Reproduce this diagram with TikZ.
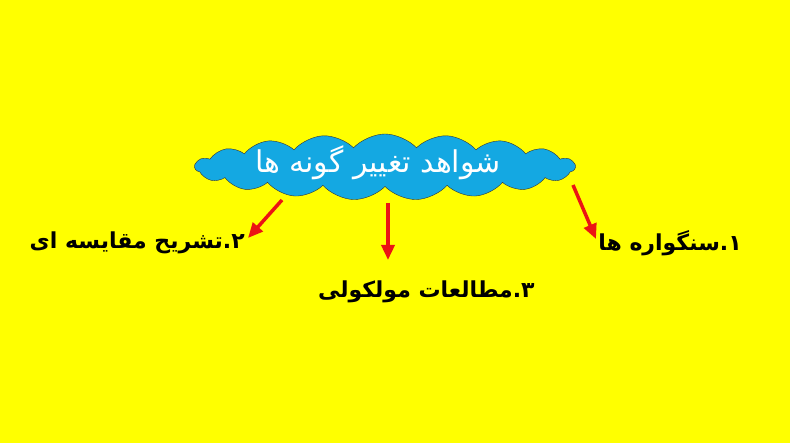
\documentclass[tikz,border=0pt]{standalone}
\usepackage{fontspec}
\usepackage{tikz}
\usetikzlibrary{arrows.meta, shapes.symbols}
\TeXXeTstate=1
\newfontfamily\arabicfont[Script=Arabic]{DejaVu Sans}
\definecolor{bgyellow}{RGB}{255,255,0}
\definecolor{cloudblue}{RGB}{20,168,226}
\definecolor{arrowred}{RGB}{235,20,20}

\begin{document}
\begin{tikzpicture}[x=1pt, y=-1pt, ->, >={Triangle[length=15pt,width=13pt]}, semithick,
	redarrow/.style={draw=arrowred, line width=3.5pt},
	label/.style={font=\arabicfont\bfseries\fontsize{22}{28}\selectfont, inner sep=2pt}]
		\fill[bgyellow] (0,0) rectangle (790,443);
		\useasboundingbox (0,0) rectangle (790,443);
		
		\node[cloud, cloud puffs=19, cloud puff arc=95, aspect=5.8, draw=black!80, thin, fill=cloudblue,
			minimum width=380pt, minimum height=66pt, inner sep=0pt] (evid) at (385,167) {};
		\node[font=\arabicfont\fontsize{30}{34}\selectfont, text=white] (title) at (378,163) {\beginR شواهد تغییر گونه ها\endR};
		
		\node[label, anchor=east] (fossil) at (744,243) {\beginR ۱.سنگواره ها\endR};
		\node[label, anchor=east] (anatomy) at (247,243) {\beginR ۲.تشریح مقایسه ای\endR};
		\node[label, anchor=east] (molecular) at (537,292) {\beginR ۳.مطالعات مولکولی\endR};
		
		\coordinate (s1) at (573,185);
		\coordinate (t1) at (596,239);
		\coordinate (s2) at (282,200);
		\coordinate (t2) at (248,238);
		\coordinate (s3) at (388,203);
		\coordinate (t3) at (388,260);
		
		\path (s1) edge[redarrow] (t1)
			(s2) edge[redarrow] (t2)
			(s3) edge[redarrow] (t3);
	\end{tikzpicture}
\end{document}
